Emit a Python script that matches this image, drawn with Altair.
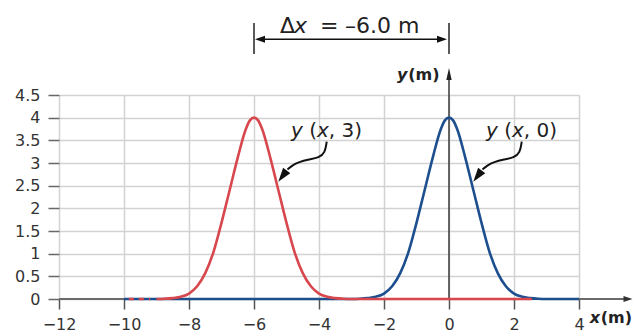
import altair as alt
import pandas as pd

# ---------------- data ----------------
X_TICKS = [-12, -10, -8, -6, -4, -2, 0, 2, 4]
Y_TICKS = [0, 0.5, 1, 1.5, 2, 2.5, 3, 3.5, 4, 4.5]

# y(x, 0): pulse centred at x = 0 (plus flat baseline)
blue_x = [-10, -3, -2.75, -2.5, -2.25, -2, -1.75, -1.5, -1.25, -1, -0.75, -0.5, -0.25, -0.125, 0,
          0.125, 0.25, 0.5, 0.75, 1, 1.25, 1.5, 1.75, 2, 2.25, 2.5, 2.75, 3, 4]
blue_y = [0, 0, 0.005, 0.02, 0.05, 0.12, 0.28, 0.57, 1.03, 1.68, 2.4, 3.12, 3.75, 3.94, 4.0,
          3.94, 3.75, 3.12, 2.4, 1.68, 1.03, 0.57, 0.28, 0.12, 0.05, 0.02, 0.005, 0, 0]

# y(x, 3): pulse centred at x = -6 (plus flat baseline)
red_x = [-9, -8.75, -8.5, -8.25, -8, -7.75, -7.5, -7.25, -7, -6.75, -6.5, -6.25, -6.125, -6,
         -5.875, -5.75, -5.5, -5.25, -5, -4.75, -4.5, -4.25, -4, -3.75, -3.5, -3.25, -3, 2.55]
red_y = [0, 0.005, 0.02, 0.05, 0.12, 0.28, 0.57, 1.03, 1.68, 2.4, 3.12, 3.75, 3.94, 4.0,
         3.94, 3.75, 3.12, 2.4, 1.68, 1.03, 0.57, 0.28, 0.12, 0.05, 0.02, 0.005, 0, 0]
red_stub_x = [-9.85, -9.2]

BLUE = "#1d4f8f"
RED = "#d7474d"
INK = "#222222"
FONT = "DejaVu Sans"

# annotation anchors (data units)
SHIFT = 6.0
arrow_px = [(-3.763, 3.470), (-3.815, 3.221), (-4.0, 3.121), (-4.308, 3.077),
            (-4.615, 3.022), (-4.831, 2.945), (-4.969, 2.857)]
arrow_head = (-5.123, 2.711)

SX = alt.Scale(domain=[-12, 4], nice=False, zero=False)
SY = alt.Scale(domain=[0, 4.5], nice=False, zero=False)

AX = alt.Axis(
    values=X_TICKS, title=None, grid=True, gridColor="#d2d2d2", gridWidth=1.5,
    domain=False, tickSize=10, tickColor="#555555", tickWidth=1.5, labelFlush=False,
    labelFont=FONT, labelFontSize=16, labelColor="#333333", labelPadding=7)
AY = alt.Axis(
    values=Y_TICKS, format="~g", title=None, grid=True, gridColor="#d2d2d2", gridWidth=1.5,
    domain=False, tickSize=11, tickColor="#666666", tickWidth=1.5, labelFlush=False,
    labelFont=FONT, labelFontSize=16, labelColor="#333333", labelPadding=8)


def X(f="x"):
    return alt.X(f"{f}:Q", scale=SX, axis=AX)


def Y(f="y"):
    return alt.Y(f"{f}:Q", scale=SY, axis=AY)


# ---------------- curves ----------------
blue_df = pd.DataFrame({"x": blue_x, "y": blue_y, "i": range(len(blue_x))})
red_df = pd.DataFrame({"x": red_x, "y": red_y, "i": range(len(red_x))})

blue = alt.Chart(blue_df).mark_line(color=BLUE, strokeWidth=2.6, interpolate="monotone").encode(
    x=X(), y=Y(), order="i:Q")
red = alt.Chart(red_df).mark_line(color=RED, strokeWidth=2.6, interpolate="monotone").encode(
    x=X(), y=Y(), order="i:Q")
red_stub = alt.Chart(pd.DataFrame({"x": red_stub_x, "y": [0, 0]})).mark_line(
    color=RED, strokeWidth=2.6, strokeDash=[5, 5]).encode(x=X(), y=Y())

# ---------------- axis lines with arrows ----------------
xaxis_line = alt.Chart(pd.DataFrame({"x": [-12], "x2": [5.45], "y": [0]})).mark_rule(
    color="#6b6b6b", strokeWidth=2).encode(x=X(), x2="x2:Q", y=Y())
yaxis_line = alt.Chart(pd.DataFrame({"x": [0], "y": [0], "y2": [4.96]})).mark_rule(
    color="#444444", strokeWidth=1.6).encode(x=X(), y=Y(), y2="y2:Q")


def head(xv, yv, angle, size, half, color):
    shape = f"M0,-1L{half},1L-{half},1Z"
    return alt.Chart(pd.DataFrame({"x": xv, "y": yv})).mark_point(
        shape=shape, filled=True, size=size, angle=angle, color=color, opacity=1,
        strokeWidth=0).encode(x=X(), y=Y())


xaxis_head = head([5.508], [0], 90, 81, 0.67, "#333333")
yaxis_head = head([0], [4.964], 0, 144, 0.45, "#222222")

# ---------------- delta-x dimension ----------------
bars = alt.Chart(pd.DataFrame({"x": [-6, 0], "y": [5.405, 5.405], "y2": [6.089, 6.089]})).mark_rule(
    color=INK, strokeWidth=1.5).encode(x=X(), y=Y(), y2="y2:Q")
dim_line = alt.Chart(pd.DataFrame({"x": [-5.85], "x2": [-0.15], "y": [5.729]})).mark_rule(
    color="#111111", strokeWidth=1.6).encode(x=X(), x2="x2:Q", y=Y())
dim_left = head([-5.815], [5.729], 270, 100, 0.7, "#111111")
dim_right = head([-0.215], [5.729], 90, 100, 0.7, "#111111")

# ---------------- curved pointer arrows ----------------
arr_rows = []
for k, off in enumerate([0.0, SHIFT]):
    for i, (ax, ay) in enumerate(arrow_px):
        arr_rows.append({"x": ax + off, "y": ay, "g": k, "i": i})
arrows = alt.Chart(pd.DataFrame(arr_rows)).mark_line(
    color="#111111", strokeWidth=2, interpolate="basis").encode(
    x=X(), y=Y(), detail="g:N", order="i:Q")
arrow_heads = head([arrow_head[0], arrow_head[0] + SHIFT], [arrow_head[1]] * 2,
                   217, 196, 0.64, "#111111")


# ---------------- texts ----------------
def texts(rows, size, style="normal", weight="normal"):
    df = pd.DataFrame(rows, columns=["x", "y", "t"])
    return alt.Chart(df).mark_text(
        font=FONT, fontSize=size, fontStyle=style, fontWeight=weight, align="left",
        baseline="alphabetic", color=INK).encode(x=X(), y=Y(), text="t:N")


dx_normal = texts([(-5.2, 5.868, "Δ"), (-3.969, 5.868, "="), (-3.2, 5.868, "–6.0 m")], 22)
dx_italic = texts([(-4.769, 5.868, "x")], 22, "italic")

lab_italic = texts([(-4.862, 3.574, "y"), (-4.062, 3.574, "x"),
                    (-4.862 + SHIFT, 3.574, "y"), (-4.062 + SHIFT, 3.574, "x")], 20, "italic")
lab_normal = texts([(-4.302, 3.574, "("), (-3.698, 3.574, ", 3)"),
                    (-4.302 + SHIFT, 3.574, "("), (-3.698 + SHIFT, 3.574, ", 0)")], 20)

ttl_italic = texts([(-1.6, 4.831, "y"), (4.33, -0.529, "x")], 16, "italic", "bold")
ttl_normal = texts([(-1.255, 4.831, "(m)"), (4.67, -0.529, "(m)")], 16, "normal", "bold")

chart = alt.layer(
    xaxis_line, yaxis_line, blue, red, red_stub, xaxis_head, yaxis_head,
    bars, dim_line, dim_left, dim_right, arrows, arrow_heads,
    dx_normal, dx_italic, lab_italic, lab_normal, ttl_italic, ttl_normal,
).properties(
    width=520, height=204,
    padding={"left": 51, "top": 87, "right": 54, "bottom": 33},
    autosize=alt.AutoSizeParams(type="none"),
).configure_view(stroke=None)

chart.save("out.html", embed_options={"renderer": "svg", "actions": False})
